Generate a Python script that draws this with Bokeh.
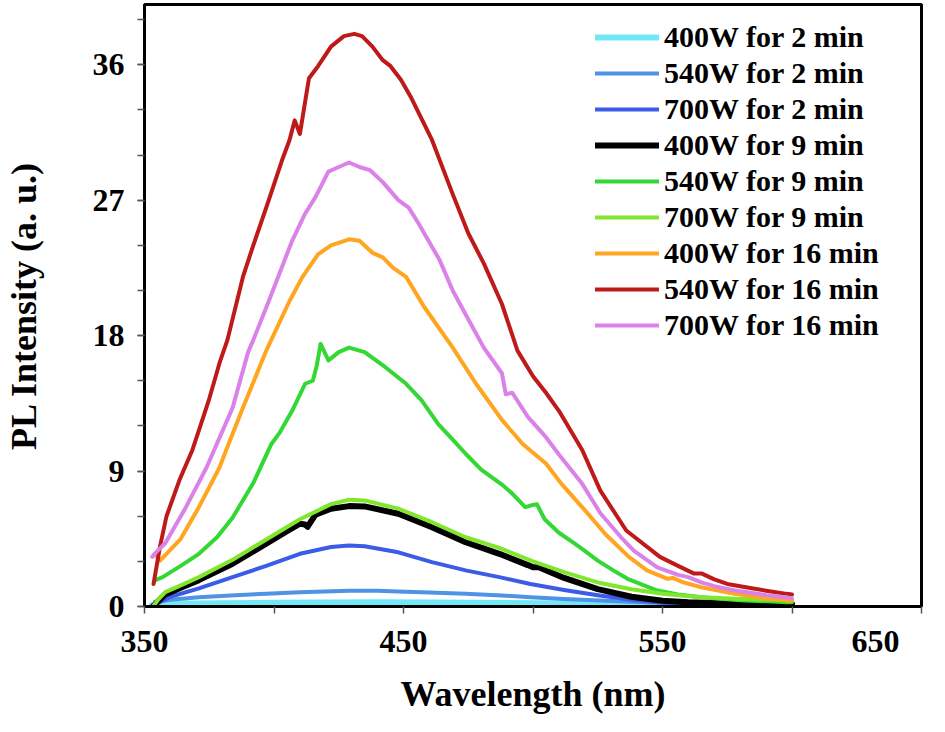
from bokeh.plotting import figure
from bokeh.models import Legend, LegendItem, SingleIntervalTicker, FixedTicker, Range1d
from bokeh.embed import file_html
from bokeh.resources import INLINE

# ---------------- data ----------------
labels = ["400W for 2 min", "540W for 2 min", "700W for 2 min",
          "400W for 9 min", "540W for 9 min", "700W for 9 min",
          "400W for 16 min", "540W for 16 min", "700W for 16 min"]

x_major_ticks = [350, 450, 550, 650]
x_minor_ticks = [400, 500, 600]

wl_400_2 = [353, 360, 380, 400, 420, 440, 460, 480, 500, 520, 540, 560, 580, 600]
pl_400_2 = [0.10, 0.18, 0.22, 0.25, 0.27, 0.28, 0.27, 0.25, 0.22, 0.19, 0.16, 0.13, 0.10, 0.08]

wl_540_2 = [354, 360, 371, 385, 397, 410, 429, 440, 448, 460, 474, 488, 499, 512, 526, 540, 555, 565, 580, 600]
pl_540_2 = [0.30, 0.45, 0.62, 0.75, 0.85, 0.95, 1.05, 1.05, 1.00, 0.93, 0.84, 0.73, 0.62, 0.50, 0.40, 0.30, 0.20, 0.15, 0.10, 0.08]

wl_700_2 = [353, 356, 360, 371, 384, 397, 410, 422, 429, 435, 448, 461, 474, 487, 499, 512, 525, 538, 550, 565, 580, 600]
pl_700_2 = [0.10, 0.30, 0.65, 1.20, 1.95, 2.70, 3.50, 3.95, 4.05, 4.00, 3.60, 2.95, 2.40, 1.95, 1.50, 1.10, 0.75, 0.45, 0.25, 0.12, 0.06, 0.05]

wl_400_9 = [353.5, 355, 358, 364, 371, 384, 397, 405, 410, 412, 413, 416, 422, 429, 435, 448, 461, 474, 487,
            498, 500, 502, 512, 525, 538, 550, 560, 575, 590, 600]
pl_400_9 = [0.00, 0.30, 0.80, 1.25, 1.75, 2.84, 4.17, 5.00, 5.50, 5.45, 5.30, 6.10, 6.50, 6.67, 6.65, 6.16, 5.27, 4.27, 3.50,
            2.75, 2.60, 2.62, 1.90, 1.15, 0.65, 0.38, 0.28, 0.20, 0.17, 0.17]

wl_540_9 = [354, 357, 364, 371, 378, 384, 392, 399, 402, 407, 412, 415, 416.5, 418, 421, 425, 429, 435, 443, 451,
            457, 463.5, 470, 474, 480, 484, 488, 492, 497, 500, 501.5, 504.5, 510, 516, 520, 525, 531, 537, 548,
            556, 565, 580, 598, 600]
pl_540_9 = [1.73, 1.95, 2.70, 3.50, 4.60, 5.90, 8.20, 10.8, 11.5, 13.0, 14.8, 15.0, 16.0, 17.45, 16.35, 16.9, 17.2, 16.9, 15.9, 14.8,
            13.7, 12.1, 10.9, 10.15, 9.10, 8.60, 8.10, 7.50, 6.60, 6.75, 6.80, 5.80, 4.90, 4.20, 3.70, 3.05, 2.40, 1.80, 1.06,
            0.80, 0.62, 0.42, 0.29, 0.28]

wl_700_9 = [353.5, 355, 358, 364, 371, 384, 397, 410, 422, 429, 435, 448, 461, 474, 487, 500, 512, 525, 538, 550, 565, 580, 600]
pl_700_9 = [0.05, 0.40, 0.95, 1.40, 1.95, 3.10, 4.45, 5.80, 6.80, 7.10, 7.05, 6.50, 5.60, 4.60, 3.90, 3.00, 2.28, 1.60, 1.15, 0.85, 0.62, 0.50, 0.40]

wl_400_16 = [354, 356, 364, 371, 379, 382, 388, 397, 406, 411, 417, 422, 429, 433, 438, 442, 446, 451, 458, 469,
             478, 488, 496, 505, 511, 520, 528, 537, 544, 552, 554, 558, 565, 578, 590, 598, 600]
pl_400_16 = [3.50, 3.05, 4.50, 6.60, 9.25, 10.6, 13.2, 17.0, 20.3, 21.9, 23.4, 24.0, 24.4, 24.3, 23.5, 23.2, 22.5, 21.9, 19.9, 17.2,
             14.8, 12.4, 10.8, 9.5, 8.15, 6.4, 4.8, 3.3, 2.4, 1.84, 1.9, 1.6, 1.28, 0.84, 0.55, 0.40, 0.38]

wl_540_16 = [353.5, 356, 358.5, 363.5, 368.5, 371, 375, 379, 382, 388, 392, 397, 403, 406, 408, 410, 413.5, 417, 422, 427,
             431, 434, 438, 442, 445, 449, 453, 461, 469, 475, 481, 488, 494, 500, 505, 510, 519, 526, 536, 549,
             556, 562, 565, 570, 575, 585, 590, 598, 600]
pl_540_16 = [1.5, 4.0, 6.0, 8.4, 10.4, 11.7, 13.8, 16.2, 17.7, 21.9, 24.0, 26.5, 29.6, 31.0, 32.3, 31.4, 35.1, 35.9, 37.2, 37.9,
             38.05, 37.9, 37.2, 36.3, 35.9, 35.0, 33.8, 31.0, 27.4, 24.8, 22.8, 20.1, 17.0, 15.3, 14.2, 13.0, 10.4, 7.7, 5.05, 3.3,
             2.7, 2.2, 2.2, 1.8, 1.5, 1.2, 1.05, 0.84, 0.80]

wl_700_16 = [353, 355, 358, 366, 374, 384, 390, 392, 398, 407, 412, 416, 421, 425, 429, 433, 437, 442, 448, 452,
             456, 464, 469, 474, 481, 488, 489.5, 492, 498, 505, 510, 519, 526, 534, 539, 548, 556, 560, 565, 570,
             578, 590, 598, 600]
pl_700_16 = [3.3, 3.7, 4.2, 6.6, 9.25, 13.2, 16.9, 17.7, 20.3, 24.3, 26.1, 27.2, 28.9, 29.2, 29.5, 29.2, 29.0, 28.2, 27.0, 26.5,
             25.4, 23.0, 21.0, 19.4, 17.2, 15.5, 14.1, 14.2, 12.6, 11.25, 10.1, 8.15, 6.2, 4.6, 3.7, 2.6, 2.1, 1.95, 1.6, 1.35,
             1.06, 0.75, 0.60, 0.55]

series_x = [wl_400_2, wl_540_2, wl_700_2, wl_400_9, wl_540_9, wl_700_9, wl_400_16, wl_540_16, wl_700_16]
series_y = [pl_400_2, pl_540_2, pl_700_2, pl_400_9, pl_540_9, pl_700_9, pl_400_16, pl_540_16, pl_700_16]

colors = ["#72E8F6", "#4E93E6", "#3A5CE6", "#000000", "#34D834", "#80E62E", "#FFA51F", "#BE1A1A", "#DA82E8"]
widths = [6, 4, 4, 6, 4, 4, 4, 4, 4]

FONT = "Times New Roman"

# ---------------- figure ----------------
p = figure(width=929, height=716, output_backend="svg", toolbar_location=None,
           x_range=Range1d(350, 650), y_range=Range1d(0, 40),
           frame_width=777, frame_height=602,
           min_border_left=142, min_border_right=10, min_border_top=4, min_border_bottom=110)

p.background_fill_color = "white"
p.border_fill_color = "white"
p.outline_line_color = "black"
p.outline_line_width = 3
p.xgrid.visible = False
p.ygrid.visible = False

renderers = []
for xs, ys, c, w in zip(series_x, series_y, colors, widths):
    r = p.line(xs, ys, line_color=c, line_width=w, line_join="round", line_cap="round")
    renderers.append(r)

# axes
p.xaxis.ticker = FixedTicker(ticks=x_major_ticks, minor_ticks=x_minor_ticks)
p.yaxis.ticker = SingleIntervalTicker(interval=9, num_minor_ticks=3)
# the right-most tick label is pulled inside the picture, as in the original
p.xaxis.major_label_overrides = {x_major_ticks[-1]: str(x_major_ticks[-1]) + "\u00a0" * 4}
for ax in (p.xaxis[0], p.yaxis[0]):
    ax.axis_line_color = "black"
    ax.axis_line_width = 3
    ax.major_tick_line_color = "#555555"
    ax.minor_tick_line_color = "#555555"
    ax.major_tick_line_width = 1.5
    ax.minor_tick_line_width = 1.5
    ax.major_tick_in = 0
    ax.major_tick_out = 7
    ax.minor_tick_in = 0
    ax.minor_tick_out = 7
    ax.major_label_text_font = FONT
    ax.major_label_text_font_style = "bold"
    ax.major_label_text_font_size = "32px"
    ax.major_label_text_color = "black"
    ax.axis_label_text_font = FONT
    ax.axis_label_text_font_style = "bold"
    ax.axis_label_text_font_size = "36px"
    ax.axis_label_text_color = "black"

p.xaxis.axis_label = "Wavelength (nm)"
p.yaxis.axis_label = "PL Intensity (a. u.)"
p.xaxis.major_label_standoff = 9
p.yaxis.major_label_standoff = 13
p.xaxis.axis_label_standoff = 12
p.yaxis.axis_label_standoff = 46

legend = Legend(items=[LegendItem(label=l, renderers=[r]) for l, r in zip(labels, renderers)],
                location=(451, 263), orientation="vertical")
legend.label_text_font = FONT
legend.label_text_font_style = "bold"
legend.label_text_font_size = "30px"
legend.label_text_color = "black"
legend.glyph_width = 64
legend.glyph_height = 36
legend.label_height = 36
legend.label_standoff = 5
legend.spacing = 0
legend.padding = 0
legend.margin = 0
legend.border_line_color = None
legend.background_fill_alpha = 0
p.add_layout(legend)

open("out.html", "w").write(file_html(p, INLINE))
